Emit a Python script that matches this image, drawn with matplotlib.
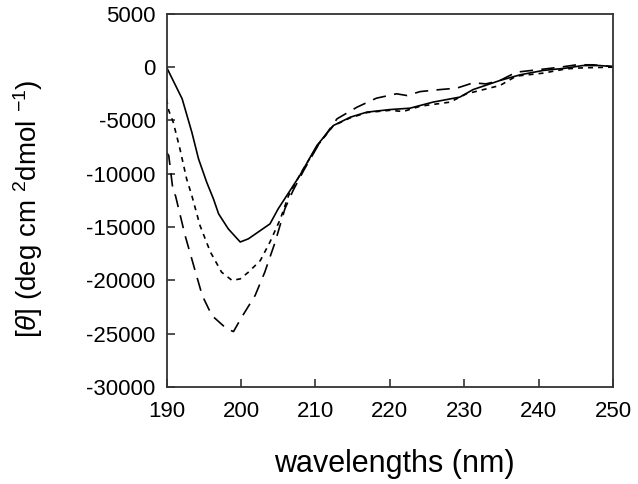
import matplotlib
matplotlib.use("Agg")
import matplotlib.pyplot as plt

plt.rcParams['font.family'] = ['Liberation Sans', 'DejaVu Sans']
plt.rcParams['mathtext.fontset'] = 'custom'
plt.rcParams['mathtext.rm'] = 'Liberation Sans'
plt.rcParams['mathtext.it'] = 'Liberation Sans:italic'

# solid curve
wl_a = [190, 192.1, 193.4, 194.3, 195.4, 196.3, 197.0, 198.3, 199.9, 201.0, 203.9, 205.0,
        206.6, 207.9, 210.2, 212.4, 214.7, 216.9, 220.0, 222.7, 225.8, 229.4, 231.2,
        234.8, 237.5, 240.6, 243.7, 245.9, 248.2, 250]
val_a = [0, -2970, -6100, -8600, -10800, -12350, -13760, -15170, -16400, -16100, -14700, -13290,
         -11570, -10170, -7350, -5480, -4690, -4220, -3980, -3850, -3280, -2810, -2100,
         -1250, -720, -310, -90, 150, 150, 50]

# short-dashed curve
wl_b = [190, 190.3, 190.9, 191.8, 192.7, 193.4, 194.5, 195.9, 197.4, 198.8, 199.9, 201.0,
        202.6, 203.9, 205.3, 206.4, 208.0, 210.3, 212.4, 214.7, 217.0, 220.0, 221.8, 224.1,
        228.1, 230.3, 234.8, 237.0, 240.6, 243.7, 245.9, 250]
val_b = [-3000, -4070, -5160, -7660, -10480, -12040, -14860, -17350, -19230, -20000, -19860, -19230,
         -18140, -16400, -14230, -12040, -10000, -7350, -5500, -4750, -4250, -4050, -4160, -3660,
         -3280, -2500, -1720, -840, -560, -160, -65, 0]

# long-dashed curve
wl_c = [190, 190.3, 190.9, 191.2, 192.5, 193.9, 194.8, 196.1, 198.1, 199.0, 200.1, 201.9,
        203.2, 204.6, 205.9, 207.0, 208.5, 210.4, 212.9, 215.6, 218.2, 220.9, 222.3, 224.1,
        226.8, 229.0, 231.2, 232.9, 234.8, 237.0, 240.2, 242.9, 245.1, 247.3, 250]
val_c = [-8000, -8290, -11730, -12040, -15800, -19230, -21420, -23300, -24550, -24800, -23450, -21420,
         -19230, -16400, -13290, -11570, -9600, -7300, -4850, -3750, -2910, -2500, -2660, -2290,
         -2100, -1970, -1470, -1570, -1250, -470, -220, 0, 220, 220, 50]

xticks = [190, 200, 210, 220, 230, 240, 250]
yticks = [5000, 0, -5000, -10000, -15000, -20000, -25000, -30000]

fig = plt.figure(figsize=(6.38, 4.84), dpi=100)
ax = fig.add_axes([0.261, 0.2004, 0.700, 0.771])

ax.plot(wl_a, val_a, color='black', lw=1.2, linestyle='-')
ax.plot(wl_b, val_b, color='black', lw=1.2, linestyle=(0, (3, 3)))
ax.plot(wl_c, val_c, color='black', lw=1.2, linestyle=(0, (8, 5)))

ax.set_xlim(190, 250)
ax.set_ylim(-30000, 5000)
ax.set_xticks(xticks)
ax.set_yticks(yticks)
ax.set_xticklabels([str(t) for t in xticks])
ax.set_yticklabels([str(t) for t in yticks])
ax.tick_params(direction='in', length=6, width=1.2, color='#333333', labelsize=16, pad=8)
ax.tick_params(axis='x', pad=10)
for s in ax.spines.values():
    s.set_linewidth(1.3)
    s.set_color('#333333')

ax.set_xlabel('wavelengths (nm)', fontsize=22)
ax.xaxis.set_label_coords(0.51, -0.165)
ax.set_ylabel(r'[$\it{\theta}$] (deg cm $^{2}$dmol $^{-1}$)', fontsize=20)
ax.yaxis.set_label_coords(-0.272, 0.477)

fig.savefig('out.png', dpi=100)
